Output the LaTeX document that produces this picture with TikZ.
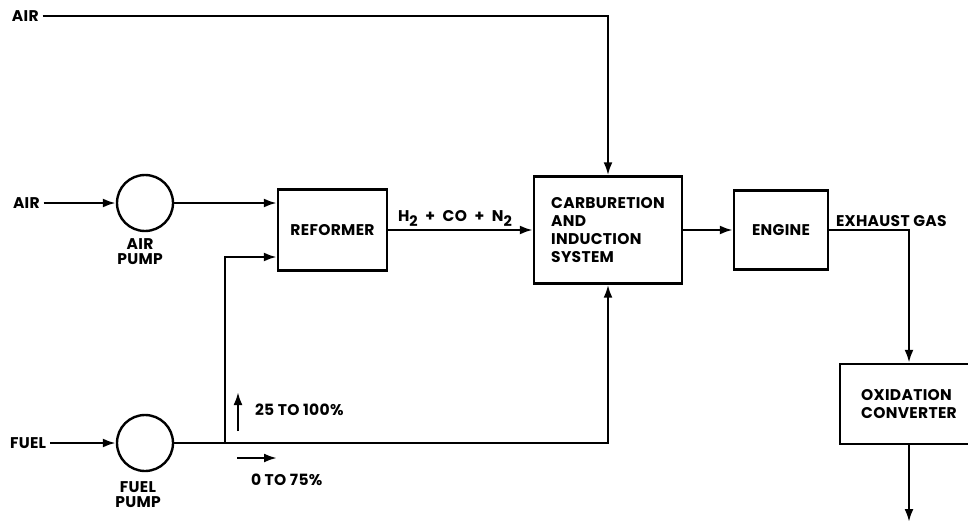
\documentclass[tikz,border=0pt]{standalone}
\usepackage{fontspec}
\setmainfont{Poppins}[LetterSpace=2]
\usetikzlibrary{arrows.meta}
\newcommand{\sbs}[1]{\raisebox{-0.5ex}{\fontsize{14.5}{14.5}\selectfont #1}}
\tikzset{
  wire/.style={line width=2.4pt},
  flow/.style={line width=2.4pt,-{Latex[length=13pt,width=9pt]}},
  blk/.style={draw,line width=2.4pt,rectangle,inner sep=0pt,font=\fontsize{15.5}{18}\selectfont\bfseries,align=left},
  pump/.style={draw,circle,line width=2.4pt,minimum size=56pt,inner sep=0pt},
  lbl/.style={font=\fontsize{15.5}{15}\selectfont\bfseries,inner sep=0pt,outer sep=4pt,align=center}
}
\begin{document}
\begin{tikzpicture}[x=1pt,y=-1pt]
\clip (0,0) rectangle (968,524);
\useasboundingbox (0,0) rectangle (968,524);
\fill[white] (0,0) rectangle (968,524);
% blocks
\node[blk,minimum width=109pt,minimum height=81pt] (reformer) at (332.5,230) {REFORMER};
\node[blk,minimum width=148pt,minimum height=107pt] (carb) at (608,230) {CARBURETION\\AND\\INDUCTION\\SYSTEM};
\node[blk,minimum width=94pt,minimum height=79pt] (engine) at (781,230) {ENGINE};
\node[blk,minimum width=138pt,minimum height=80pt] (oxid) at (909,404) {OXIDATION\\CONVERTER};
\node[pump] (airpump) at (145,203) {};
\node[pump] (fuelpump) at (145,443) {};
% labels
\node[lbl,anchor=west] (airtop) at (8,16) {AIR};
\node[lbl,anchor=west] (air) at (9,203) {AIR};
\node[lbl,anchor=west] (fuel) at (6,443) {FUEL};
\node[lbl,inner sep=0pt,outer sep=0pt] (airpumplbl) at (140,252) {AIR\\PUMP};
\node[lbl,inner sep=0pt,outer sep=0pt] (fuelpumplbl) at (138,495) {FUEL\\PUMP};
\node[lbl,anchor=south,outer sep=0pt] (gas) at (455,226) {H\sbs{2}\hspace{4pt} + \hspace{4pt}CO\hspace{4pt} + \hspace{4pt}N\sbs{2}};
\node[lbl,anchor=south west,outer sep=0pt] (exh) at (836,227) {EXHAUST GAS};
\node[lbl,anchor=west,outer sep=0pt] (p25) at (255,410) {25 TO 100\%};
\node[lbl,anchor=west,outer sep=0pt] (p0) at (251,480) {0 TO 75\%};
% coordinates
\coordinate (junc) at (225,443);
\coordinate (exit) at (909,522);
\coordinate (u1) at (238,431);
\coordinate (u2) at (238,392);
\coordinate (r1) at (237,458);
\coordinate (r2) at (277,458);
% connectors
\draw[flow] (airtop.east) -| (carb.north);
\draw[flow] (air.east) -- (airpump.west);
\draw[flow] (airpump.east) -- ([yshift=27pt]reformer.west);
\draw[flow] (fuel.east) -- (fuelpump.west);
\draw[wire] (fuelpump.east) -- (junc);
\draw[flow] (junc) |- ([yshift=-27pt]reformer.west);
\draw[flow] (junc) -| (carb.south);
\draw[flow] (reformer.east) -- (carb.west);
\draw[flow] (carb.east) -- (engine.west);
\draw[flow] (engine.east) -| (oxid.north);
\draw[flow] (oxid.south) -- (exit);
\draw[flow] (u1) -- (u2);
\draw[flow] (r1) -- (r2);
\end{tikzpicture}
\end{document}
